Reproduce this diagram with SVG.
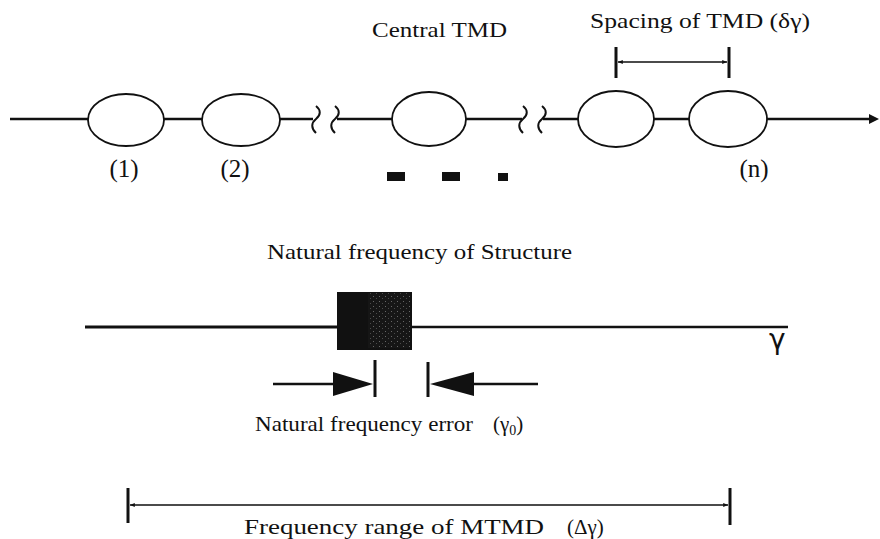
<svg xmlns="http://www.w3.org/2000/svg" width="880" height="539" viewBox="0 0 880 539">
<style>
text{font-family:"Liberation Serif","Times New Roman",serif;fill:#111;}
.t{font-size:21px;}
.lab{font-size:25px;text-anchor:middle;}
.ln{stroke:#111;fill:none;stroke-width:2.5;}
.thin{stroke:#111;fill:none;stroke-width:1.2;}
.bar{stroke:#111;fill:none;stroke-width:3;}
.tmd{fill:#fff;stroke:#111;stroke-width:1.8;}
.sq{stroke:#111;fill:none;stroke-width:2;}
</style>
<defs>
<marker id="mh" viewBox="0 0 10 10" refX="10" refY="5" markerWidth="4" markerHeight="4" orient="auto"><path d="M0,1 L10,5 L0,9 z" fill="#111"/></marker>
<pattern id="grain" width="6" height="5" patternUnits="userSpaceOnUse"><rect width="6" height="5" fill="#161616"/><rect x="1" y="1" width="1" height="1" fill="#666"/><rect x="4" y="3" width="1" height="1" fill="#4a4a4a"/></pattern>
</defs>
<g id="connectors">
<line class="ln" x1="10" y1="119" x2="313" y2="119"/>
<line class="ln" x1="337" y1="119" x2="522" y2="119"/>
<line class="ln" x1="543" y1="119" x2="872" y2="119"/>
<path d="M869,114 L879,119 L869,124 z" fill="#111"/>
<path class="sq" d="M316,106 C321,110 321,115 316,119 C311,123 311,128 316,133"/>
<path class="sq" d="M335,106 C340,110 340,115 335,119 C330,123 330,128 335,133"/>
<path class="sq" d="M523,106 C528,110 528,115 523,119 C518,123 518,128 523,133"/>
<path class="sq" d="M542,106 C547,110 547,115 542,119 C537,123 537,128 542,133"/>
</g>
<g id="tmd1"><ellipse class="tmd" cx="126" cy="120" rx="38" ry="26"/><text class="lab" x="124" y="177">(1)</text></g>
<g id="tmd2"><ellipse class="tmd" cx="241" cy="120" rx="39" ry="26"/><text class="lab" x="235" y="177">(2)</text></g>
<g id="tmdc"><ellipse class="tmd" cx="429" cy="119" rx="37" ry="27"/><text class="t" x="372" y="37" textLength="135" lengthAdjust="spacingAndGlyphs">Central TMD</text></g>
<g id="dots">
<rect x="387" y="172" width="18" height="9" fill="#111"/>
<rect x="442" y="172" width="18" height="9" fill="#111"/>
<rect x="498" y="173" width="10" height="8" fill="#111"/>
</g>
<g id="tmd4"><ellipse class="tmd" cx="616" cy="119" rx="38" ry="28"/></g>
<g id="tmdn"><ellipse class="tmd" cx="728" cy="119" rx="39" ry="28"/><text class="lab" x="754" y="177">(n)</text></g>
<g id="spacing">
<text class="t" x="590" y="28" textLength="220" lengthAdjust="spacingAndGlyphs">Spacing of TMD  (δγ)</text>
<line class="bar" x1="616" y1="47" x2="616" y2="78"/>
<line class="bar" x1="729" y1="47" x2="729" y2="78"/>
<line class="thin" x1="727" y1="62" x2="618" y2="62" marker-end="url(#mh)"/>
<line class="thin" x1="618" y1="62" x2="727" y2="62" marker-end="url(#mh)"/>
</g>
<g id="structure">
<text class="t" x="267" y="259" textLength="305" lengthAdjust="spacingAndGlyphs">Natural frequency of Structure</text>
<line x1="85" y1="327" x2="340" y2="327" stroke="#111" stroke-width="3"/>
<line x1="410" y1="327" x2="788" y2="327" stroke="#111" stroke-width="2.5"/>
<rect x="337" y="292" width="75" height="58" fill="#111"/>
<rect x="368" y="293" width="42" height="55" fill="url(#grain)"/>
<text x="769" y="349" style="font-family:'DejaVu Sans','Liberation Sans',sans-serif;font-size:28px;">γ</text>
</g>
<g id="error">
<line class="ln" x1="273" y1="384" x2="336" y2="384"/>
<path d="M333,372 L373,384 L333,396 z" fill="#111"/>
<line class="bar" x1="375" y1="360" x2="375" y2="397"/>
<line class="bar" x1="428" y1="362" x2="428" y2="397"/>
<path d="M474,372 L430,384 L474,396 z" fill="#111"/>
<line class="ln" x1="472" y1="384" x2="538" y2="384"/>
<text class="t" x="255" y="431" textLength="218" lengthAdjust="spacingAndGlyphs">Natural frequency error</text>
<text class="t" x="493" y="431">(γ<tspan font-size="14" dy="4">0</tspan><tspan dy="-4">)</tspan></text>
</g>
<g id="range">
<line class="bar" x1="128" y1="488" x2="128" y2="523"/>
<line class="bar" x1="730" y1="488" x2="730" y2="525"/>
<line class="thin" x1="728" y1="505" x2="130" y2="505" marker-end="url(#mh)"/>
<line class="thin" x1="130" y1="505" x2="728" y2="505" marker-end="url(#mh)"/>
<text class="t" x="244" y="534" textLength="300" lengthAdjust="spacingAndGlyphs">Frequency range of MTMD</text>
<text class="t" x="567" y="534">(Δγ)</text>
</g>
</svg>
